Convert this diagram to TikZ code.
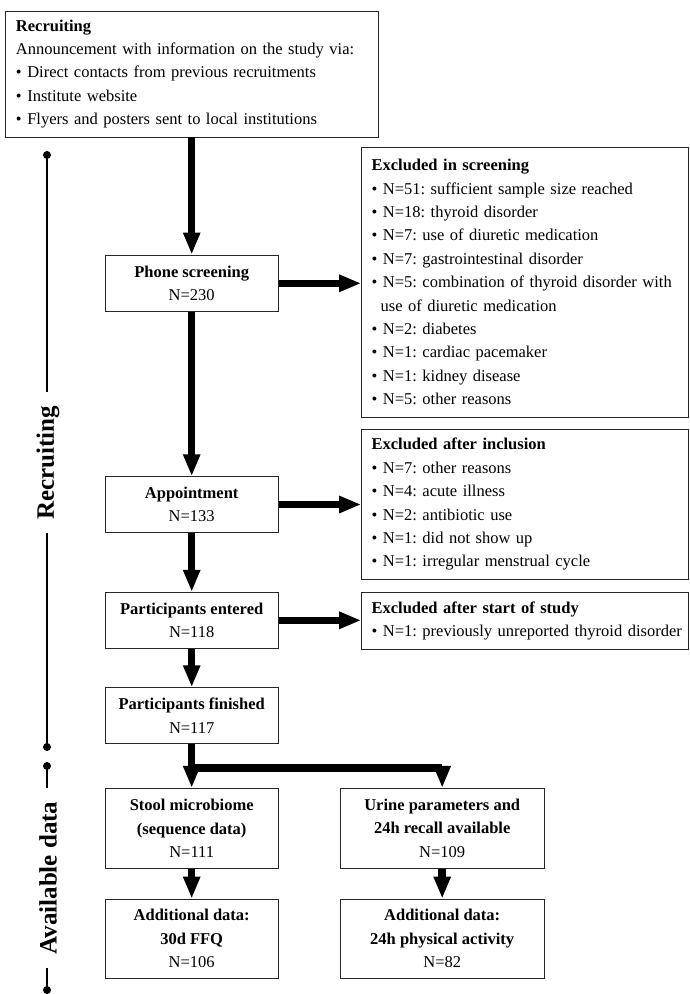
\documentclass[tikz,border=0pt]{standalone}
\usepackage{fontspec}
\setmainfont{Liberation Serif}
\usetikzlibrary{arrows.meta}
\begin{document}
\frenchspacing
\hyphenpenalty=10000
\begin{tikzpicture}[x=1pt,y=-1pt,
  txt/.style={font=\fontsize{16.5}{23.4}\selectfont},
  box/.style={draw=black!85, line width=0.9pt, txt, inner sep=0pt, align=center},
  lbox/.style={draw=black!85, line width=0.9pt, txt, inner ysep=0pt, inner xsep=10pt, align=left},
  arr/.style={line width=7.5pt, -{Triangle[width=16pt,length=22pt]}, line join=miter},
  side/.style={line width=2.4pt},
  dotc/.style={fill=black},
  sidelabel/.style={font=\fontsize{25}{28}\selectfont\bfseries, rotate=90, inner sep=0pt}
]
\useasboundingbox (0,0) rectangle (689,994);

% main boxes
\node[lbox, text width=351pt, inner xsep=11pt, minimum height=126pt] (top) at (191.5,74)
 {\textbf{Recruiting}\\
  Announcement with information on the study via:\\
  \textbullet\ Direct contacts from previous recruitments\\
  \textbullet\ Institute website\\
  \textbullet\ Flyers and posters sent to local institutions};

\node[box, minimum width=173.3pt, minimum height=56.7pt] (phone) at (191.7,283.3)
 {\textbf{Phone screening}\\N=230};

\node[lbox, text width=306.3pt, minimum height=270pt] (ex1) at (524.8,282)
 {\textbf{Excluded in screening}\\
  \textbullet\ N=51: sufficient sample size reached\\
  \textbullet\ N=18: thyroid disorder\\
  \textbullet\ N=7: use of diuretic medication\\
  \textbullet\ N=7: gastrointestinal disorder\\
  \mbox{\textbullet\ N=5: combination of thyroid disorder with}\\
  \hspace*{9pt}use of diuretic medication\\
  \textbullet\ N=2: diabetes\\
  \textbullet\ N=1: cardiac pacemaker\\
  \textbullet\ N=1: kidney disease\\
  \textbullet\ N=5: other reasons};

\node[box, minimum width=173.3pt, minimum height=55.6pt] (appt) at (191.7,504.5)
 {\textbf{Appointment}\\N=133};

\node[lbox, text width=306.3pt, minimum height=150pt] (ex2) at (524.8,504.3)
 {\textbf{Excluded after inclusion}\\
  \textbullet\ N=7: other reasons\\
  \textbullet\ N=4: acute illness\\
  \textbullet\ N=2: antibiotic use\\
  \textbullet\ N=1: did not show up\\
  \textbullet\ N=1: irregular menstrual cycle};

\node[box, minimum width=173.3pt, minimum height=56pt] (entered) at (191.7,620.3)
 {\textbf{Participants entered}\\N=118};

\node[lbox, text width=306.3pt, minimum height=56.3pt] (ex3) at (524.8,620.8)
 {\textbf{Excluded after start of study}\\
  \mbox{\textbullet\ N=1: previously unreported thyroid disorder}};

\node[box, minimum width=173.3pt, minimum height=55.6pt] (fin) at (191.7,715.5)
 {\textbf{Participants finished}\\N=117};

\node[box, minimum width=173.3pt, minimum height=80pt] (stool) at (191.7,828.3)
 {\textbf{Stool microbiome}\\\textbf{(sequence data)}\\N=111};

\node[box, minimum width=204.3pt, minimum height=80pt] (urine) at (442.2,828.3)
 {\textbf{Urine parameters and}\\\textbf{24h recall available}\\N=109};

\node[box, minimum width=173.3pt, minimum height=79.3pt] (add1) at (191.7,938.7)
 {\textbf{Additional data:}\\\textbf{30d FFQ}\\N=106};

\node[box, minimum width=204.3pt, minimum height=79.3pt] (add2) at (442.2,938.7)
 {\textbf{Additional data:}\\\textbf{24h physical activity}\\N=82};

% connectors
\draw[arr] (top.south -| phone.north) -- (phone.north);
\draw[arr] (phone.east) -- (phone.east -| ex1.west);
\draw[arr] (phone.south) -- (appt.north);
\draw[arr] (appt.east) -- (appt.east -| ex2.west);
\draw[arr] (appt.south) -- (entered.north);
\draw[arr] (entered.east) -- (entered.east -| ex3.west);
\draw[arr] (entered.south) -- (fin.north);
\coordinate (split) at (191.7,768);
\draw[arr] (fin.south) -- (stool.north);
\draw[arr] (fin.south) -- (split) -| (urine.north);
\draw[arr] (stool.south) -- (add1.north);
\draw[arr] (urine.south) -- (add2.north);

% side brackets
\node[sidelabel] (lrec) at (48,463) {Recruiting};
\node[sidelabel] (lav) at (48,878) {Available data};
\coordinate (r1) at (47,155);
\coordinate (r1e) at (47,392);
\coordinate (r2s) at (47,533);
\coordinate (r2) at (47,747);
\coordinate (a1) at (47,766);
\coordinate (a1e) at (47,788);
\coordinate (a2s) at (47,968);
\coordinate (a2) at (47,990);
\draw[side] (r1) -- (r1e);
\draw[side] (r2s) -- (r2);
\draw[side] (a1) -- (a1e);
\draw[side] (a2s) -- (a2);
\foreach \p in {r1,r2,a1,a2} \fill[dotc] (\p) circle (4pt);
\end{tikzpicture}
\end{document}
